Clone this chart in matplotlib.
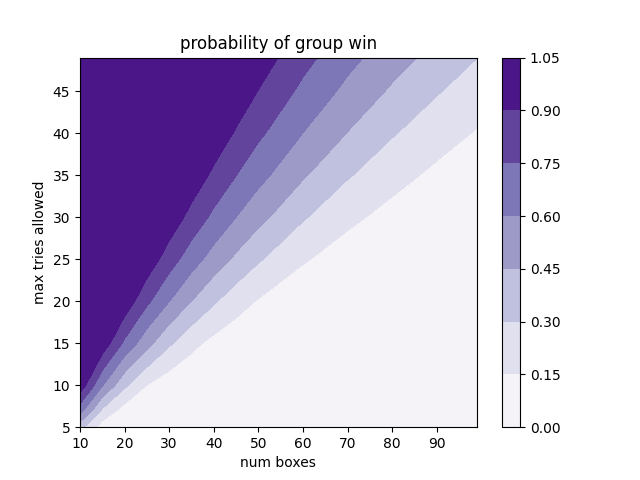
import numpy as np
import matplotlib
matplotlib.use("Agg")
import matplotlib.pyplot as plt

# grid: columns = num boxes, rows = max tries allowed
num_boxes = [10, 15, 20, 25, 30, 35, 40, 45, 50, 60, 70, 80, 90, 99]
max_tries = [5, 7, 10, 15, 20, 25, 30, 35, 40, 45, 49]

win_prob = [
    [0.353, 0.071, 0.009, 0.001, 0.0, 0.0, 0.0, 0.0, 0.0, 0.0, 0.0, 0.0, 0.0, 0.0],
    [0.664, 0.276, 0.084, 0.021, 0.004, 0.001, 0.0, 0.0, 0.0, 0.0, 0.0, 0.0, 0.0, 0.0],
    [1.0, 0.610, 0.331, 0.148, 0.059, 0.022, 0.007, 0.003, 0.0, 0.0, 0.0, 0.0, 0.0, 0.0],
    [1.0, 1.0, 0.720, 0.502, 0.323, 0.190, 0.106, 0.056, 0.030, 0.006, 0.0, 0.0, 0.0, 0.0],
    [1.0, 1.0, 1.0, 0.782, 0.603, 0.451, 0.319, 0.212, 0.139, 0.054, 0.019, 0.006, 0.002, 0.0],
    [1.0, 1.0, 1.0, 1.0, 0.821, 0.669, 0.537, 0.421, 0.317, 0.164, 0.082, 0.038, 0.015, 0.006],
    [1.0, 1.0, 1.0, 1.0, 1.0, 0.848, 0.716, 0.600, 0.496, 0.315, 0.182, 0.104, 0.054, 0.030],
    [1.0, 1.0, 1.0, 1.0, 1.0, 1.0, 0.868, 0.752, 0.648, 0.467, 0.314, 0.198, 0.120, 0.073],
    [1.0, 1.0, 1.0, 1.0, 1.0, 1.0, 1.0, 0.884, 0.779, 0.599, 0.446, 0.313, 0.208, 0.140],
    [1.0, 1.0, 1.0, 1.0, 1.0, 1.0, 1.0, 1.0, 0.896, 0.715, 0.562, 0.429, 0.312, 0.225],
    [1.0, 1.0, 1.0, 1.0, 1.0, 1.0, 1.0, 1.0, 0.980, 0.799, 0.646, 0.514, 0.397, 0.302],
]

levels = [0.0, 0.15, 0.30, 0.45, 0.60, 0.75, 0.90, 1.05]

X, Y = np.meshgrid(num_boxes, max_tries)
Z = np.array(win_prob)

fig, ax = plt.subplots(figsize=(6.4, 4.8), dpi=100)
cs = ax.contourf(X, Y, Z, levels=levels, cmap="Purples")
fig.colorbar(cs, ax=ax)
ax.set_title("probability of group win")
ax.set_xlabel("num boxes")
ax.set_ylabel("max tries allowed")

plt.savefig("out.png")
